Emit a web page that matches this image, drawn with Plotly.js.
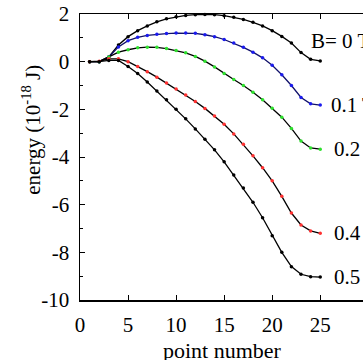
<!DOCTYPE html>
<html>
<head>
<meta charset="utf-8">
<script src="https://cdn.plot.ly/plotly-3.0.1.min.js"></script>
<style>html,body{margin:0;padding:0;background:#fff;overflow:hidden}</style>
</head>
<body>
<div id="chart" style="width:363px;height:360px"></div>
<script>
const points = [1,2,3,4,5,6,7,8,9,10,11,12,13,14,15,16,17,18,19,20,21,22,23,24,25];
const seriesNames = ["B= 0 T", "0.1 T", "0.2 T", "0.4 T", "0.5 T"];
const energyB0  = [0,0,0.2,0.7,1.05,1.3,1.5,1.67,1.8,1.88,1.94,1.97,1.98,1.97,1.93,1.86,1.77,1.65,1.5,1.3,1.06,0.78,0.38,0.1,0.03];
const energyB01 = [0,0,0.2,0.62,0.88,1.02,1.1,1.15,1.18,1.2,1.2,1.19,1.13,1.05,0.93,0.78,0.6,0.4,0.16,-0.15,-0.55,-1.0,-1.5,-1.77,-1.82];
const energyB02 = [0,0,0.2,0.4,0.5,0.58,0.61,0.6,0.55,0.47,0.37,0.22,0.02,-0.22,-0.5,-0.75,-1.0,-1.28,-1.6,-1.95,-2.33,-2.8,-3.33,-3.62,-3.67];
const energyB04 = [0,0.02,0.12,0.12,0.0,-0.2,-0.42,-0.65,-0.9,-1.15,-1.4,-1.67,-1.96,-2.28,-2.63,-3.03,-3.47,-3.95,-4.45,-5.0,-5.65,-6.35,-6.85,-7.1,-7.2];
const energyB05 = [0,0,0.05,0.05,-0.2,-0.5,-0.85,-1.23,-1.6,-2.0,-2.4,-2.82,-3.25,-3.7,-4.2,-4.75,-5.3,-5.9,-6.55,-7.3,-8.0,-8.6,-8.92,-9.02,-9.04];
const xTickVals = [0,5,10,15,20,25];
const xTickText = ["0","5","10","15","20","25"];
const yTickVals = [-10,-8,-6,-4,-2,0,2];
const yTickText = ["-10","-8","-6","-4","-2","0","2"];
const allSeries = [energyB0, energyB01, energyB02, energyB04, energyB05];
const markerColors = ["#000000", "#1a1aee", "#2ee02e", "#ff3030", "#000000"];
const lineColors = ["#000000", "#10106a", "#000000", "#000000", "#000000"];
const labelX = [23.8, 25.9, 26.2, 26.2, 26.2];
const labelTexts = ["B= 0 T", "0.1 T", "0.2 T", "0.4 T", "0.5 T"];
const labelYShift = [20, 0, 0, 0, 0];

const font = "Liberation Serif, serif";

const traces = allSeries.map((ys, i) => ({
  x: points, y: ys, type: "scatter", mode: "lines+markers",
  name: seriesNames[i],
  line: {color: lineColors[i], width: 1.3},
  marker: {color: markerColors[i], size: 3.5},
  showlegend: false, cliponaxis: false
}));

const annotations = allSeries.map((ys, i) => ({
  x: labelX[i], y: ys[ys.length - 1], xref: "x", yref: "y",
  text: labelTexts[i], showarrow: false, xanchor: "left", yanchor: "middle",
  yshift: labelYShift[i],
  font: {family: font, size: 21, color: "#000"}
}));
annotations.push({
  x: -0.17, y: 0.595, xref: "paper", yref: "paper", showarrow: false,
  xanchor: "center", yanchor: "middle",
  text: "energy (10<sup>-18</sup> J)", textangle: -90,
  font: {family: font, size: 21, color: "#000"}
});
annotations.push({
  x: 0.505, y: -0.175, xref: "paper", yref: "paper", showarrow: false,
  xanchor: "center", yanchor: "middle",
  text: "point number",
  font: {family: font, size: 22, color: "#000"}
});

const layout = {
  width: 363, height: 360,
  margin: {l: 80, r: 0, t: 14, b: 60},
  showlegend: false,
  font: {family: font, size: 21, color: "#000"},
  xaxis: {
    range: [0, 29.45], tickmode: "array", tickvals: xTickVals, ticktext: xTickText,
    ticks: "inside", ticklen: 5, tickcolor: "#000",
    showline: true, linecolor: "#000", linewidth: 1.5, mirror: "ticks",
    showgrid: false, zeroline: false, ticklabelstandoff: 5,
    tickfont: {family: font, size: 21, color: "#000"}
  },
  yaxis: {
    range: [-10, 2], tickmode: "array", tickvals: yTickVals, ticktext: yTickText,
    ticks: "inside", ticklen: 5, tickcolor: "#000",
    minor: {tick0: 1, dtick: 2, ticks: "inside", ticklen: 3, tickcolor: "#000"},
    showline: true, linecolor: "#000", linewidth: 1.5,
    showgrid: false, zeroline: false, ticklabelstandoff: 5,
    tickfont: {family: font, size: 21, color: "#000"}
  },
  annotations: annotations
};

Plotly.newPlot("chart", traces, layout, {staticPlot: true, displayModeBar: false}).then(() => {
  document.querySelectorAll('.xtick text, .ytick text').forEach(t => {
    t.style.fontFamily = '"Liberation Serif", serif';
  });
});
</script>
</body>
</html>
